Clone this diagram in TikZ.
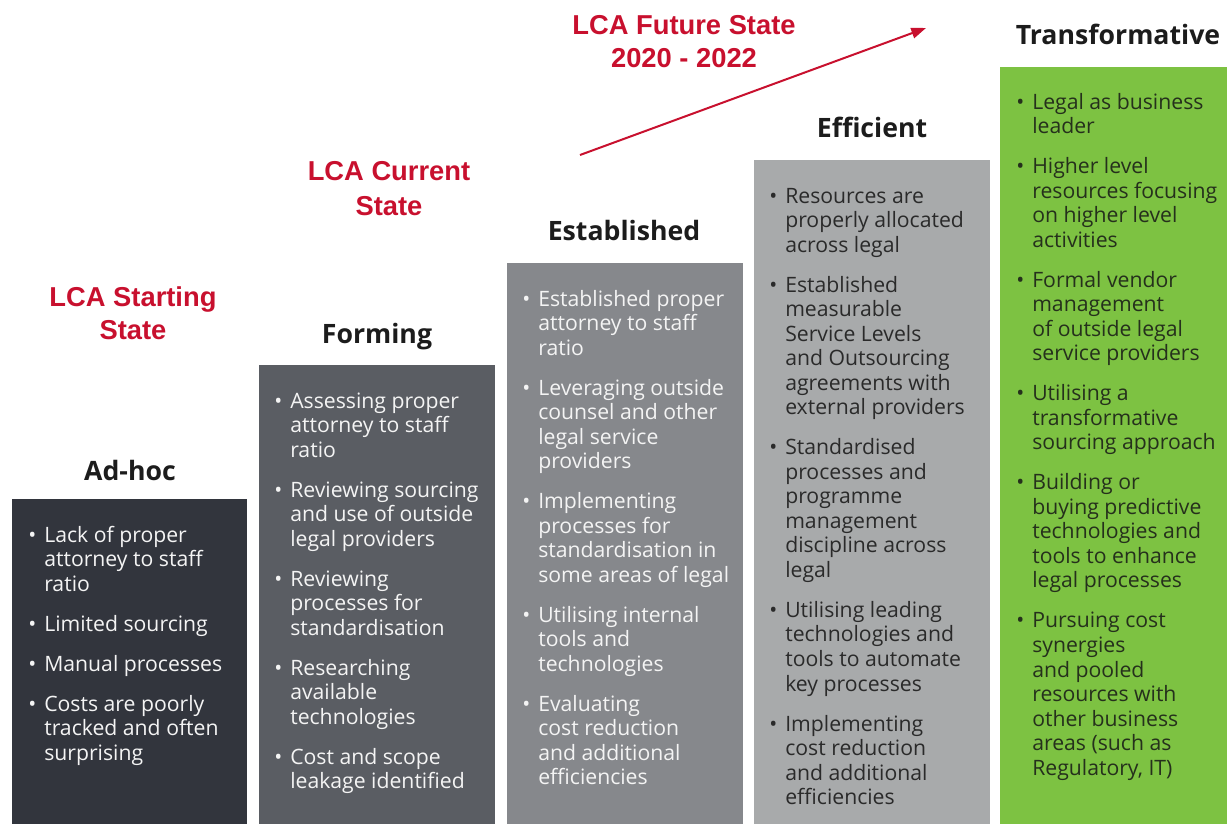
\documentclass[tikz,border=0pt]{standalone}
\usepackage{fontspec}
\setmainfont{Open Sans}
\newfontfamily\labelfont{Liberation Sans}
\usetikzlibrary{arrows.meta}

\definecolor{lcared}{HTML}{C8102E}
\definecolor{headink}{HTML}{1C1C1C}
\definecolor{adhocfill}{HTML}{32353D}
\definecolor{formingfill}{HTML}{5A5D63}
\definecolor{establishedfill}{HTML}{86888C}
\definecolor{efficientfill}{HTML}{A8AAAB}
\definecolor{transformfill}{HTML}{7DC242}
\definecolor{lightink}{HTML}{F4F4F4}
\definecolor{darkink}{HTML}{2A2A2A}
\definecolor{greenink}{HTML}{25301C}

% bullet with a fixed hanging indent
\newcommand\bul{\makebox[12pt][l]{\textbullet}}
\newlength\itemgap
\setlength\itemgap{11.6pt}

\tikzset{
  heading/.style={font=\fontsize{20}{24}\selectfont\bfseries, text=headink, anchor=base, inner sep=0},
  body/.style={font=\fontsize{15.9}{18.4}\selectfont, anchor=base west, inner sep=0},
  statelbl/.style={font=\labelfont\fontsize{20.5}{24.75}\selectfont\bfseries, text=lcared, anchor=base, inner sep=0},
  progress/.style={draw=lcared, line width=1.5pt, -{Triangle[length=11pt,width=8pt]}},
}

\begin{document}
\begin{tikzpicture}[x=0.75pt, y=-0.75pt]
\useasboundingbox (0,0) rectangle (1227,824);

% stage columns
\fill[adhocfill]       (12,499)   rectangle (247,824);
\fill[formingfill]     (259,365)  rectangle (495,824);
\fill[establishedfill] (507,263)  rectangle (743,824);
\fill[efficientfill]   (754,160)  rectangle (990,824);
\fill[transformfill]   (1000,67)  rectangle (1227,824);

% stage headings
\node[heading] (hadhoc)   at (130,480)  {Ad-hoc};
\node[heading] (hform)    at (377,343)  {Forming};
\node[heading] (hestab)   at (624,240)  {Established};
\node[heading] (heffic)   at (872,137)  {Efficient};
\node[heading] (htrans)   at (1118,45)  {Transformative};

% stage contents
\node[body, text=lightink] (badhoc) at (28,542) {\begin{tabular}[t]{@{}l@{}l@{}}
\bul & Lack of proper\\
     & attorney to staff\\
     & ratio\\[\itemgap]
\bul & Limited sourcing\\[\itemgap]
\bul & Manual processes\\[\itemgap]
\bul & Costs are poorly\\
     & tracked and often\\
     & surprising
\end{tabular}};

\node[body, text=lightink] (bform) at (274,408) {\begin{tabular}[t]{@{}l@{}l@{}}
\bul & Assessing proper\\
     & attorney to staff\\
     & ratio\\[\itemgap]
\bul & Reviewing sourcing\\
     & and use of outside\\
     & legal providers\\[\itemgap]
\bul & Reviewing\\
     & processes for\\
     & standardisation\\[\itemgap]
\bul & Researching\\
     & available\\
     & technologies\\[\itemgap]
\bul & Cost and scope\\
     & leakage identified
\end{tabular}};

\node[body, text=lightink] (bestab) at (522,306) {\begin{tabular}[t]{@{}l@{}l@{}}
\bul & Established proper\\
     & attorney to staff\\
     & ratio\\[\itemgap]
\bul & Leveraging outside\\
     & counsel and other\\
     & legal service\\
     & providers\\[\itemgap]
\bul & Implementing\\
     & processes for\\
     & standardisation in\\
     & some areas of legal\\[\itemgap]
\bul & Utilising internal\\
     & tools and\\
     & technologies\\[\itemgap]
\bul & Evaluating\\
     & cost reduction\\
     & and additional\\
     & efficiencies
\end{tabular}};

\node[body, text=darkink] (beffic) at (769,203) {\begin{tabular}[t]{@{}l@{}l@{}}
\bul & Resources are\\
     & properly allocated\\
     & across legal\\[\itemgap]
\bul & Established\\
     & measurable\\
     & Service Levels\\
     & and Outsourcing\\
     & agreements with\\
     & external providers\\[\itemgap]
\bul & Standardised\\
     & processes and\\
     & programme\\
     & management\\
     & discipline across\\
     & legal\\[\itemgap]
\bul & Utilising leading\\
     & technologies and\\
     & tools to automate\\
     & key processes\\[\itemgap]
\bul & Implementing\\
     & cost reduction\\
     & and additional\\
     & efficiencies
\end{tabular}};

\node[body, text=greenink] (btrans) at (1016,109) {\begin{tabular}[t]{@{}l@{}l@{}}
\bul & Legal as business\\
     & leader\\[\itemgap]
\bul & Higher level\\
     & resources focusing\\
     & on higher level\\
     & activities\\[\itemgap]
\bul & Formal vendor\\
     & management\\
     & of outside legal\\
     & service providers\\[\itemgap]
\bul & Utilising a\\
     & transformative\\
     & sourcing approach\\[\itemgap]
\bul & Building or\\
     & buying predictive\\
     & technologies and\\
     & tools to enhance\\
     & legal processes\\[\itemgap]
\bul & Pursuing cost\\
     & synergies\\
     & and pooled\\
     & resources with\\
     & other business\\
     & areas (such as\\
     & Regulatory, IT)
\end{tabular}};

% LCA state markers
\node[statelbl] (start1) at (133,306) {LCA Starting};
\node[statelbl] (start2) at (133,339) {State};
\node[statelbl] (curr1)  at (389,180) {LCA Current};
\node[statelbl] (curr2)  at (389,215) {State};
\node[statelbl] (fut1)   at (684,35)  {LCA Future State};
\node[statelbl] (fut2)   at (684,68)  {2020 - 2022};

% progression arrow
\coordinate (arrowfrom) at (580,155);
\coordinate (arrowto)   at (926,28);
\draw[progress] (arrowfrom) -- (arrowto);

\end{tikzpicture}
\end{document}
